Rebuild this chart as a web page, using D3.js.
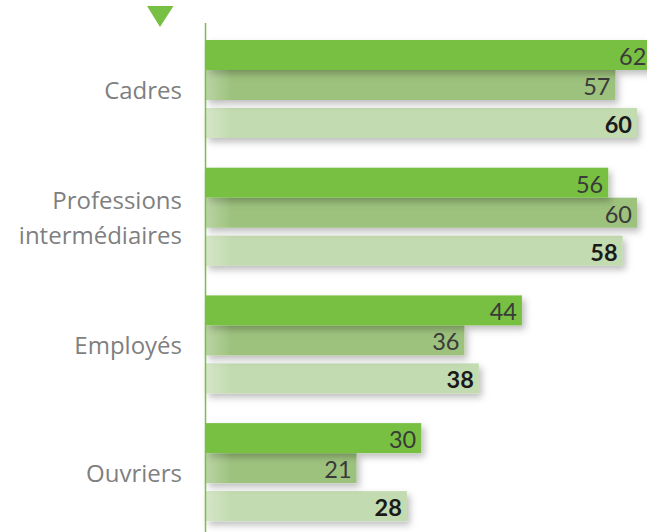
<!DOCTYPE html>
<html>
<head>
<meta charset="utf-8">
<script src="https://cdn.jsdelivr.net/npm/d3@7"></script>
<style>
  html, body { margin: 0; padding: 0; background: #ffffff; }
  svg { display: block; }
</style>
</head>
<body>
<svg id="chart" width="647" height="532"></svg>
<script>
// Socio-professional categories and their three series of values
const categories = ["Cadres", "Professions intermédiaires", "Employés", "Ouvriers"];
const categoryLines = [["Cadres"], ["Professions", "intermédiaires"], ["Employés"], ["Ouvriers"]];
const series1 = [62, 56, 44, 30];
const series2 = [57, 60, 36, 21];
const series3 = [60, 58, 38, 28];
const seriesList = [series1, series2, series3];

const W = 647, H = 532;
const axisX = 205.5;
const barH = 30;
const lastGap = 8;
const colors = ["#78c043", "#9dc27d", "#c3dbb0"];

const svg = d3.select("#chart");

const x = d3.scaleLinear().domain([0, 60]).range([axisX, 637]);
const y = d3.scaleBand().domain(categories).range([40, 40 + 4 * 127.7]).padding(0);
const inner = d3.scaleBand().domain([0, 1, 2]).range([0, barH * 3]).padding(0);
const barY = (cat, s) => y(cat) + inner(s) + (s === 2 ? lastGap : 0);

const defs = svg.append("defs");
const shadow = defs.append("filter").attr("id", "shadow")
  .attr("x", "-5%").attr("y", "-30%").attr("width", "115%").attr("height", "190%");
shadow.append("feDropShadow")
  .attr("dx", 3).attr("dy", 4).attr("stdDeviation", 3.5)
  .attr("flood-color", "#000").attr("flood-opacity", 0.26);

const fade = defs.append("linearGradient").attr("id", "fade")
  .attr("gradientUnits", "userSpaceOnUse")
  .attr("x1", axisX).attr("x2", axisX + 26).attr("y1", 0).attr("y2", 0);
fade.append("stop").attr("offset", 0).attr("stop-color", "#fff").attr("stop-opacity", 0.3);
fade.append("stop").attr("offset", 1).attr("stop-color", "#fff").attr("stop-opacity", 0);

// Bars: last series drawn first so each bar's shadow falls on the one below it
const rows = [];
[2, 1, 0].forEach(s => {
  categories.forEach((cat, i) => rows.push({ cat, s, v: seriesList[s][i] }));
});

const barG = svg.append("g");
barG.selectAll("rect.bar").data(rows).join("rect")
  .attr("class", "bar")
  .attr("x", axisX)
  .attr("y", d => barY(d.cat, d.s))
  .attr("width", d => x(d.v) - axisX)
  .attr("height", barH)
  .attr("fill", d => colors[d.s])
  .attr("filter", "url(#shadow)");

barG.selectAll("rect.fade").data(rows.filter(d => d.s > 0)).join("rect")
  .attr("class", "fade")
  .attr("x", axisX)
  .attr("y", d => barY(d.cat, d.s))
  .attr("width", d => Math.min(26, x(d.v) - axisX))
  .attr("height", barH)
  .attr("fill", "url(#fade)");

// Value labels inside the bar ends
svg.append("g").selectAll("text").data(rows).join("text")
  .attr("x", d => x(d.v) - 5)
  .attr("y", d => barY(d.cat, d.s) + barH / 2 + 1)
  .attr("text-anchor", "end")
  .attr("dominant-baseline", "central")
  .attr("font-family", "Lato, 'DejaVu Sans', sans-serif")
  .attr("font-size", 23.5)
  .attr("font-weight", d => d.s === 2 ? 700 : 400)
  .attr("fill", d => d.s === 2 ? "#1a1a1a" : "#3a3a3a")
  .text(d => d.v);

// Vertical axis line and marker
svg.append("line")
  .attr("x1", axisX).attr("x2", axisX)
  .attr("y1", 23).attr("y2", H)
  .attr("stroke", "#78c043").attr("stroke-width", 1.5);

svg.append("path")
  .attr("d", d3.line()([[147, 6], [173.5, 6], [160, 27]]) + "Z")
  .attr("fill", "#78c043");

// Category labels
const lineGap = 35;
const catG = svg.append("g")
  .attr("font-family", "'Open Sans', sans-serif")
  .attr("font-size", 24)
  .attr("fill", "#7f7f7f")
  .attr("text-anchor", "end");

categories.forEach((cat, i) => {
  const lines = categoryLines[i];
  const mid = y(cat) + 58.5;
  const t = catG.append("text").attr("x", 182);
  lines.forEach((ln, k) => {
    t.append("tspan")
      .attr("x", 182)
      .attr("y", mid + (k - (lines.length - 1) / 2) * lineGap)
      .text(ln);
  });
});
</script>
</body>
</html>
